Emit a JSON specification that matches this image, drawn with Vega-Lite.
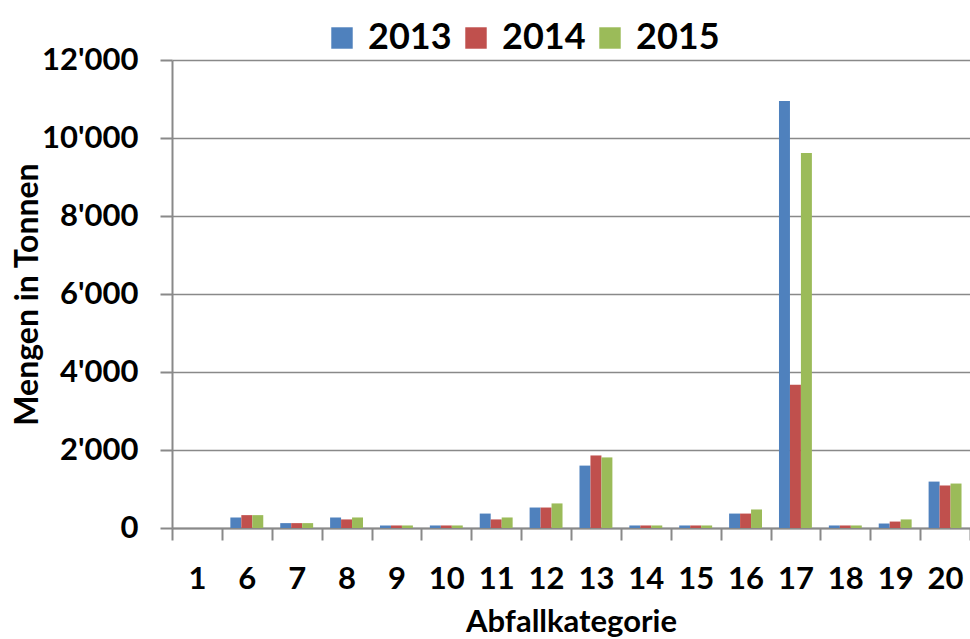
{
  "$schema": "https://vega.github.io/schema/vega-lite/v6.json",
  "autosize": "none",
  "width": 798,
  "height": 468,
  "padding": {"left": 172, "top": 60, "right": 0, "bottom": 111},
  "background": "white",
  "config": {
    "view": {"stroke": null},
    "font": "Lato",
    "axis": {"labelFont": "Lato", "titleFont": "Lato", "labelFontWeight": "bold", "titleFontWeight": "bold", "labelColor": "black", "titleColor": "black"}
  },
  "data": {
    "values": [
      {"cat": "1", "year": "2013", "value": 0}, {"cat": "1", "year": "2014", "value": 0}, {"cat": "1", "year": "2015", "value": 0},
      {"cat": "6", "year": "2013", "value": 270}, {"cat": "6", "year": "2014", "value": 330}, {"cat": "6", "year": "2015", "value": 330},
      {"cat": "7", "year": "2013", "value": 125}, {"cat": "7", "year": "2014", "value": 125}, {"cat": "7", "year": "2015", "value": 125},
      {"cat": "8", "year": "2013", "value": 270}, {"cat": "8", "year": "2014", "value": 220}, {"cat": "8", "year": "2015", "value": 270},
      {"cat": "9", "year": "2013", "value": 65}, {"cat": "9", "year": "2014", "value": 65}, {"cat": "9", "year": "2015", "value": 65},
      {"cat": "10", "year": "2013", "value": 65}, {"cat": "10", "year": "2014", "value": 65}, {"cat": "10", "year": "2015", "value": 65},
      {"cat": "11", "year": "2013", "value": 370}, {"cat": "11", "year": "2014", "value": 220}, {"cat": "11", "year": "2015", "value": 270},
      {"cat": "12", "year": "2013", "value": 525}, {"cat": "12", "year": "2014", "value": 525}, {"cat": "12", "year": "2015", "value": 630},
      {"cat": "13", "year": "2013", "value": 1600}, {"cat": "13", "year": "2014", "value": 1860}, {"cat": "13", "year": "2015", "value": 1810},
      {"cat": "14", "year": "2013", "value": 65}, {"cat": "14", "year": "2014", "value": 65}, {"cat": "14", "year": "2015", "value": 65},
      {"cat": "15", "year": "2013", "value": 65}, {"cat": "15", "year": "2014", "value": 65}, {"cat": "15", "year": "2015", "value": 65},
      {"cat": "16", "year": "2013", "value": 370}, {"cat": "16", "year": "2014", "value": 370}, {"cat": "16", "year": "2015", "value": 475},
      {"cat": "17", "year": "2013", "value": 10950}, {"cat": "17", "year": "2014", "value": 3670}, {"cat": "17", "year": "2015", "value": 9615},
      {"cat": "18", "year": "2013", "value": 65}, {"cat": "18", "year": "2014", "value": 65}, {"cat": "18", "year": "2015", "value": 65},
      {"cat": "19", "year": "2013", "value": 115}, {"cat": "19", "year": "2014", "value": 165}, {"cat": "19", "year": "2015", "value": 220},
      {"cat": "20", "year": "2013", "value": 1190}, {"cat": "20", "year": "2014", "value": 1090}, {"cat": "20", "year": "2015", "value": 1140}
    ]
  },
  "mark": {"type": "bar"},
  "encoding": {
    "x": {
      "field": "cat", "type": "ordinal", "sort": null,
      "scale": {"paddingInner": 0, "paddingOuter": 0},
      "axis": {
        "title": "Abfallkategorie", "titleFontSize": 31, "titleY": 103, "titleBaseline": "alphabetic",
        "labelAngle": 0, "labelFontSize": 31, "labelPadding": 24,
        "tickBand": "extent", "tickSize": 12, "tickColor": "#898989", "tickWidth": 2,
        "domainColor": "#898989", "domainWidth": 2, "grid": false
      }
    },
    "xOffset": {"field": "year", "type": "nominal", "scale": {"paddingInner": 0, "paddingOuter": 0.773}},
    "y": {
      "field": "value", "type": "quantitative",
      "scale": {"domain": [0, 12000], "nice": false},
      "axis": {
        "title": "Mengen in Tonnen", "titleFontSize": 32, "titleX": -135, "titleY": 234, "titleBaseline": "alphabetic", "titleAngle": -90,
        "values": [0, 2000, 4000, 6000, 8000, 10000, 12000],
        "labelExpr": "replace(format(datum.value, ','), ',', \"'\")",
        "labelFontSize": 31, "labelPadding": 22,
        "tickSize": 12, "tickColor": "#898989", "tickWidth": 2,
        "domainColor": "#898989", "domainWidth": 2,
        "grid": true, "gridColor": "#898989", "gridWidth": 1.6
      }
    },
    "color": {
      "field": "year", "type": "nominal",
      "scale": {"domain": ["2013", "2014", "2015"], "range": ["#4F81BD", "#C0504D", "#9BBB59"]},
      "legend": {
        "title": null, "orient": "none", "direction": "horizontal", "legendX": 152, "legendY": -40,
        "symbolType": "square", "symbolSize": 460, "symbolStrokeWidth": 0,
        "labelFontSize": 36, "labelFont": "Lato", "labelFontWeight": "bold", "labelColor": "black",
        "labelOffset": 8, "columnPadding": 6
      }
    }
  }
}
